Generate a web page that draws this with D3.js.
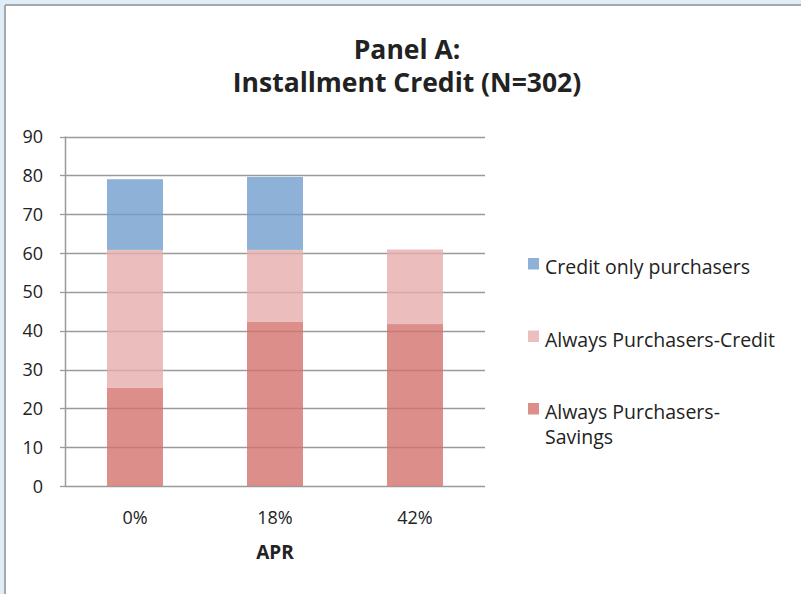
<!DOCTYPE html>
<html><head><meta charset="utf-8">
<script src="https://cdn.jsdelivr.net/npm/d3@7/dist/d3.min.js"></script>
<style>
html,body{margin:0;padding:0;background:#fff;}
svg{display:block;}
text{font-family:"Open Sans",Lato,sans-serif;fill:#222;}
</style></head>
<body>
<script>
const categories = ["0%", "18%", "42%"];
const savings = [25.3, 42.3, 41.7];
const alwaysCredit = [35.5, 18.5, 19.2];
const creditOnly = [18.2, 18.8, 0];
const seriesNames = ["Always Purchasers-Savings", "Always Purchasers-Credit", "Credit only purchasers"];
const yTicks = [0, 10, 20, 30, 40, 50, 60, 70, 80, 90];

const W = 801, H = 594;
const svg = d3.select("body").append("svg").attr("width", W).attr("height", H);

// frame
svg.append("rect").attr("x", 0).attr("y", 0).attr("width", W).attr("height", 4).attr("fill", "#dfeef6");
svg.append("rect").attr("x", 0).attr("y", 0).attr("width", 4).attr("height", H).attr("fill", "#dfeef6");
svg.append("line").attr("x1", 5).attr("x2", W).attr("y1", 5).attr("y2", 5).attr("stroke", "#a8a8a8").attr("stroke-width", 2);
svg.append("line").attr("x1", 5).attr("x2", 5).attr("y1", 5).attr("y2", H).attr("stroke", "#a8a8a8").attr("stroke-width", 2);

const x = d3.scaleBand().domain(categories).range([65, 485]).paddingInner(0.6).paddingOuter(0.3);
const y = d3.scaleLinear().domain([0, 90]).range([486, 136.5]);

// gridlines
svg.append("g").selectAll("line").data(yTicks).join("line")
  .attr("x1", 65).attr("x2", 485)
  .attr("y1", d => Math.round(y(d)) + 0.5).attr("y2", d => Math.round(y(d)) + 0.5)
  .attr("stroke", "#9a9a9a").attr("stroke-width", 1.3);

const data = categories.map((c, i) => ({cat: c, s: savings[i], c: alwaysCredit[i], o: creditOnly[i]}));
const stack = d3.stack().keys(["s", "c", "o"])(data);
const colors = {s: "#d3726d", c: "#e7acac", o: "#719dcd"};
const legendColors = {s: "#db8f8b", c: "#ebbfbf", o: "#8eb1d7"};

svg.append("g").selectAll("g").data(stack).join("g")
  .attr("fill", d => colors[d.key]).attr("fill-opacity", 0.8)
  .selectAll("rect").data(d => d).join("rect")
  .attr("x", d => x(d.data.cat)).attr("width", x.bandwidth())
  .attr("y", d => y(d[1])).attr("height", d => y(d[0]) - y(d[1]));

// axis line
svg.append("line").attr("x1", 65.5).attr("x2", 65.5).attr("y1", y(90)).attr("y2", 487).attr("stroke", "#9a9a9a").attr("stroke-width", 1.5);
svg.append("g").selectAll("line").data(yTicks).join("line")
  .attr("x1", 60).attr("x2", 65)
  .attr("y1", d => Math.round(y(d)) + 0.5).attr("y2", d => Math.round(y(d)) + 0.5)
  .attr("stroke", "#9a9a9a").attr("stroke-width", 1.3);

// y tick labels
svg.append("g").selectAll("text").data(yTicks).join("text")
  .attr("x", 43).attr("y", d => y(d) + 6.5)
  .attr("text-anchor", "end").attr("font-size", 18).text(d => d);

// x labels
svg.append("g").selectAll("text").data(categories).join("text")
  .attr("x", d => x(d) + x.bandwidth() / 2).attr("y", 524)
  .attr("text-anchor", "middle").attr("font-size", 18).text(d => d);

svg.append("text").attr("x", 275).attr("y", 559).attr("text-anchor", "middle")
  .attr("font-size", 19).attr("font-weight", "bold").text("APR");

// title
svg.append("text").attr("x", 407).attr("y", 59).attr("text-anchor", "middle")
  .attr("font-size", 26.5).attr("font-weight", "bold").text("Panel A:");
svg.append("text").attr("x", 407).attr("y", 92).attr("text-anchor", "middle")
  .attr("font-size", 26.5).attr("font-weight", "bold").text("Installment Credit (N=302)");

// legend
const legend = [
  {key: "o", lines: ["Credit only purchasers"], y: 274},
  {key: "c", lines: ["Always Purchasers-Credit"], y: 346.5},
  {key: "s", lines: ["Always Purchasers-", "Savings"], y: 419}
];
const lg = svg.append("g").selectAll("g").data(legend).join("g");
lg.append("rect").attr("x", 528).attr("y", d => d.y - 16).attr("width", 11).attr("height", 11.5)
  .attr("fill", d => legendColors[d.key]);
lg.append("text").attr("x", 545).attr("y", d => d.y).attr("font-size", 19.5)
  .selectAll("tspan").data(d => d.lines).join("tspan")
  .attr("x", 545).attr("dy", (d, i) => i === 0 ? 0 : 24.5).text(d => d);
</script>
</body></html>
